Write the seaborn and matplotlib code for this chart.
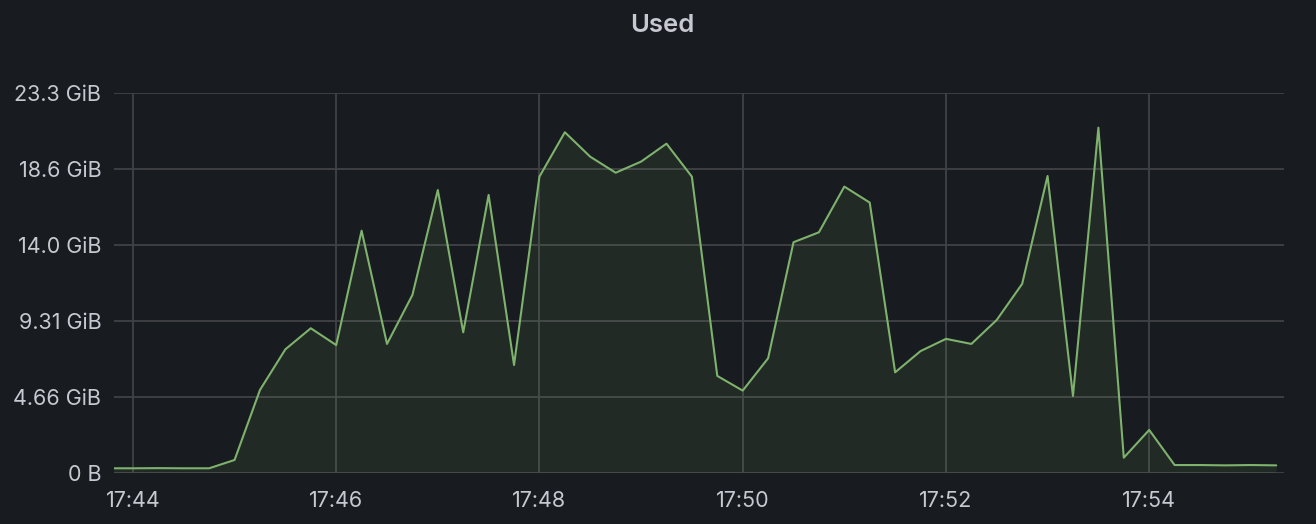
import pandas as pd
import seaborn as sns
import matplotlib.pyplot as plt
import matplotlib.dates as mdates

# memory "Used" samples, every 15 s starting 17:43:45 (GiB)
START_TIME = '2023-01-01 17:43:45'
used_gib = [
    0.27, 0.27, 0.28, 0.27, 0.27, 0.78, 5.07, 7.56, 8.85, 7.82,
    14.83, 7.89, 10.89, 17.32, 8.60, 17.02, 6.60, 18.14, 20.86, 19.36,
    18.38, 19.06, 20.16, 18.14, 5.93, 5.03, 7.01, 14.12, 14.73, 17.53,
    16.55, 6.15, 7.45, 8.20, 7.89, 9.36, 11.57, 18.18, 4.70, 21.14,
    0.92, 2.62, 0.47, 0.47, 0.45, 0.47, 0.45,
]
y_ticks_gib = [0, 4.657, 9.313, 13.970, 18.626, 23.283]
y_tick_labels = ['0 B', '4.66 GiB', '9.31 GiB', '14.0 GiB', '18.6 GiB', '23.3 GiB']
x_range = ('2023-01-01 17:43:48.8', '2023-01-01 17:55:19.6')

BG = '#181b1f'
TEXT = '#c7c8d1'
GRID = '#414246'
LINE = '#7eb26d'

df = pd.DataFrame({
    'time': pd.date_range(START_TIME, periods=len(used_gib), freq='15s'),
    'used': used_gib,
})

sns.set_theme(style='dark')
plt.rcParams['font.family'] = ['Inter', 'DejaVu Sans']

fig = plt.figure(figsize=(13.16, 5.24), dpi=100, facecolor=BG)
ax = fig.add_axes([0.0866, 0.0979, 0.9757 - 0.0866, 0.8231 - 0.0979])
ax.set_facecolor(BG)

sns.lineplot(data=df, x='time', y='used', ax=ax, color=LINE, linewidth=1.5)
ax.fill_between(df['time'], df['used'], 0, color=LINE, alpha=0.1, linewidth=0)

ax.set_xlim(pd.Timestamp(x_range[0]), pd.Timestamp(x_range[1]))
ax.set_ylim(0, y_ticks_gib[-1])
ax.set_yticks(y_ticks_gib)
ax.set_yticklabels(y_tick_labels)
ax.xaxis.set_major_locator(mdates.MinuteLocator(byminute=range(0, 60, 2)))
ax.xaxis.set_major_formatter(mdates.DateFormatter('%H:%M'))

ax.grid(True, color=GRID, linewidth=1.3)
for s in ax.spines.values():
    s.set_visible(False)
ax.tick_params(axis='both', length=0, colors=TEXT, labelsize=15.5)
ax.tick_params(axis='y', pad=9)
ax.tick_params(axis='x', pad=13)
ax.set_xlabel('')
ax.set_ylabel('')

fig.text(0.5036, 1 - 26 / 524, 'Used', ha='center', va='center',
         color=TEXT, fontsize=18.5, fontweight='semibold')

fig.savefig('out.png', dpi=100, facecolor=BG)
